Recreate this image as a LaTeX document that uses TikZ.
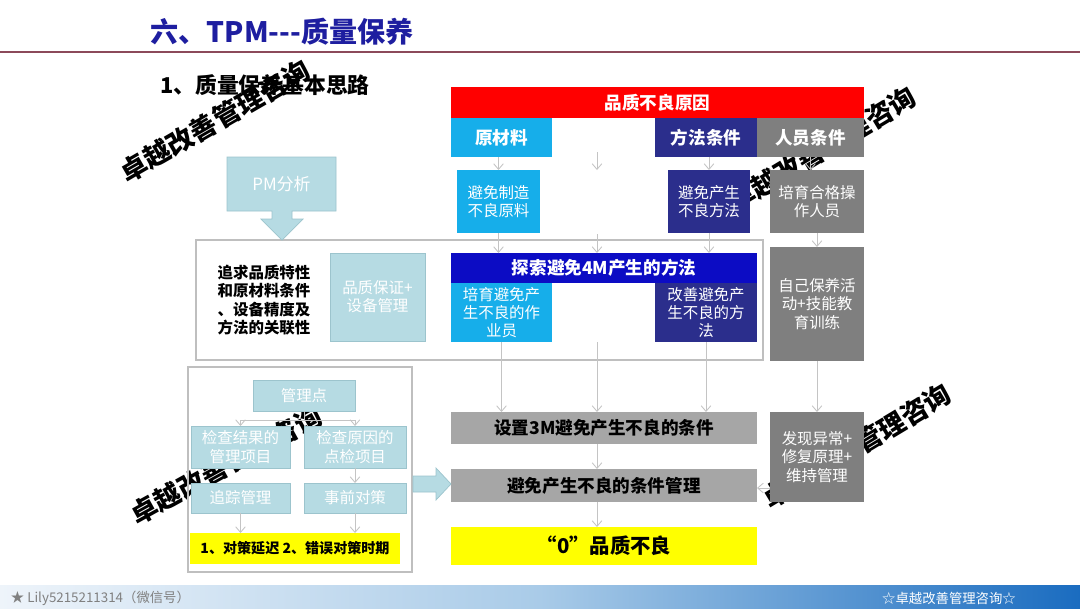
\documentclass[tikz,border=0pt]{standalone}
\usepackage{fontspec}
\setmainfont{Noto Sans CJK SC}
\usetikzlibrary{arrows.meta}
\definecolor{titleblue}{HTML}{1E1EA0}
\definecolor{ruleline}{HTML}{8C4A5A}
\definecolor{causered}{HTML}{FF0000}
\definecolor{matcyan}{HTML}{16AEEA}
\definecolor{methnavy}{HTML}{2B2E8C}
\definecolor{mangray}{HTML}{7F7F7F}
\definecolor{probeblue}{HTML}{0C0CC4}
\definecolor{bargray}{HTML}{A6A6A6}
\definecolor{paleblue}{HTML}{B6DBE3}
\definecolor{paleedge}{HTML}{9CC4CD}
\definecolor{framegray}{HTML}{BFBFBF}
\definecolor{flowgray}{HTML}{C4C4C4}
\definecolor{zeroyellow}{HTML}{FFFF00}
\definecolor{footleft}{HTML}{EEF4FA}
\definecolor{footmid}{HTML}{A9CBE8}
\definecolor{footright}{HTML}{1A6CC0}

\begin{document}
\begin{tikzpicture}[x=0.025cm,y=-0.025cm,every node/.style={font=\fontsize{11}{13}\selectfont},
  sz/.style 2 args={minimum width=#1*0.025cm,minimum height=#2*0.025cm},
  cell/.style={inner sep=0pt,outer sep=0pt,align=center,text=white,font=\fontsize{11}{13}\selectfont},
  head/.style={cell,font=\bfseries\fontsize{12.5}{14}\selectfont},
  bar/.style={cell,text=black,fill=bargray,font=\bfseries\fontsize{12.5}{14}\selectfont},
  pale/.style={cell,fill=paleblue,draw=paleedge,line width=.4pt},
  zone/.style={inner sep=0pt,outer sep=0pt,draw=framegray,line width=.8pt},
  flowline/.style={draw=flowgray,line width=.6pt},
  flow/.style={flowline,-{Straight Barb[length=1.4mm,width=2.4mm]}},
  wmark/.style={font=\bfseries\fontsize{19}{19}\selectfont,text=black}]
\useasboundingbox (0,0) rectangle (1080,608);
\fill[white] (0,0) rectangle (1080,608);
% heading
\node[font=\bfseries\fontsize{20}{23}\selectfont,text=titleblue] (title) at (282,32) {六、TPM-{}-{}-质量保养};
\draw[ruleline,line width=1.1pt] (0,52)--(1080,52);
\node[font=\bfseries\fontsize{15.5}{18}\selectfont] (sub) at (265,85) {1、质量保养基本思路};
% watermarks
\node[wmark,rotate=30] (wm1) at (215,121) {卓越改善管理咨询};
\node[wmark,rotate=31] (wm2) at (822,149) {卓越改善管理咨询};
\node[wmark,rotate=29] (wm3) at (226,465) {卓越改善管理咨询};
\node[wmark,rotate=31] (wm4) at (857,446) {卓越改善管理咨询};
% frames
\node[zone,sz={567}{120}] (upperzone) at (479.5,300) {};
\node[zone,sz={224}{205}] (lowerzone) at (300,469.5) {};
% causes
\node[head,fill=causered,sz={413}{31}] (cause) at (657.5,102.5) {品质不良原因};
\node[head,fill=matcyan,sz={101}{39}] (raw) at (501.5,137.5) {原材料};
\node[head,fill=methnavy,sz={102}{39}] (meth) at (706,137.5) {方法条件};
\node[head,fill=mangray,sz={107}{39}] (man) at (810.5,137.5) {人员条件};
\node[cell,fill=matcyan,sz={83}{63}] (rawfix) at (498.5,201.5) {避免制造\\不良原料};
\node[cell,fill=methnavy,sz={82}{63}] (methfix) at (709,201.5) {避免产生\\不良方法};
\node[cell,fill=mangray,sz={94}{63}] (manfix) at (817,201.5) {培育合格操\\作人员};
% PM analysis
\filldraw[fill=paleblue,draw=paleedge,line width=.5pt] (227,157)--(336,157)--(336,211)--(292,211)--(292,219)--(303,219)--(282,240)--(261,219)--(272,219)--(272,211)--(227,211)--cycle;
\node[cell,font=\fontsize{12}{14}\selectfont] (pm) at (281.5,184) {PM分析};
\node[cell,text=black,font=\bfseries\fontsize{11}{13}\selectfont] (link) at (264,300) {追求品质特性\\和原材料条件\\、设备精度及\\方法的关联性};
\node[pale,sz={95}{88}] (qa) at (377.5,297) {品质保证+\\设备管理};
\node[head,fill=probeblue,sz={306}{30}] (probe) at (604,268) {探索避免4M产生的方法};
\node[cell,fill=matcyan,sz={101}{59}] (opfix) at (501.5,312.5) {培育避免产\\生不良的作\\业员};
\node[cell,fill=methnavy,sz={102}{59}] (methimp) at (706,312.5) {改善避免产\\生不良的方\\法};
\node[cell,fill=mangray,sz={94}{114}] (selfpm) at (817,304) {自己保养活\\动+技能教\\育训练};
% conditions
\node[bar,sz={306}{32}] (set3m) at (604,428) {设置3M避免产生不良的条件};
\node[bar,sz={306}{33}] (ctrl) at (604,485.5) {避免产生不良的条件管理};
\node[bar,fill=zeroyellow,font=\bfseries\fontsize{14.5}{16}\selectfont,sz={306}{38}] (zero) at (604,546) {“0”品质不良};
\node[cell,fill=mangray,sz={94}{90}] (detect) at (817,457) {发现异常+\\修复原理+\\维持管理};
% control points
\node[pale,sz={102}{31}] (point) at (304,395.5) {管理点};
\node[pale,sz={99}{42}] (result) at (240.5,447) {检查结果的\\管理项目};
\node[pale,sz={102}{42}] (check) at (355,447) {检查原因的\\点检项目};
\node[pale,sz={99}{30}] (follow) at (240.5,498) {追踪管理};
\node[pale,sz={102}{30}] (prevent) at (355,498) {事前对策};
\node[cell,fill=zeroyellow,text=black,font=\bfseries\fontsize{10}{12}\selectfont,sz={210}{31}] (delay) at (295,548.5) {1、对策延迟 2、错误对策时期};
\filldraw[fill=paleblue,draw=paleedge,line width=.5pt] (413,476)--(436,476)--(436,468)--(451,484)--(436,500)--(436,492)--(413,492)--cycle;
% arrows
\coordinate (gapA) at (597,152);
\coordinate (gapB) at (597,234);
\coordinate (gapC) at (597,342);
\draw[flow] (rawfix.north |- raw.south)--(rawfix.north);
\draw[flow] (gapA)--(gapA |- rawfix.north);
\draw[flow] (methfix.north |- meth.south)--(methfix.north);
\draw[flow] (man.south)--(man.south |- manfix.north);
\draw[flow] (rawfix.south)--(rawfix.south |- probe.north);
\draw[flow] (gapB)--(gapB |- probe.north);
\draw[flow] (methfix.south)--(methfix.south |- probe.north);
\draw[flow] (manfix.south)--(selfpm.north);
\draw[flow] (opfix.south)--(opfix.south |- set3m.north);
\draw[flow] (gapC)--(gapC |- set3m.north);
\draw[flow] (methimp.south)--(methimp.south |- set3m.north);
\draw[flow] (selfpm.south)--(detect.north);
\draw[flow] (gapC |- set3m.south)--(gapC |- ctrl.north);
\draw[flow] (gapC |- ctrl.south)--(gapC |- zero.north);
\draw[flow] (detect.west |- 0,488)--(ctrl.east |- 0,488);
\coordinate (split) at (304,420);
\draw[flowline] (point.south)--(split);
\draw[flow] (split) -| (result.north);
\draw[flow] (split) -| (check.north);
\draw[flow] (check.south)--(prevent.north);
\draw[flow] (follow.south)--(follow.south |- delay.north);
\draw[flow] (prevent.south)--(prevent.south |- delay.north);
% footer
\shade[left color=footleft,right color=footright,middle color=footmid] (0,585) rectangle (1080,608);
\node[anchor=west,text=gray,font=\fontsize{9.5}{11}\selectfont] (wechat) at (6,598) {★ Lily5215211314（微信号）};
\node[text=white,font=\fontsize{9.5}{11}\selectfont] (brand) at (949,598) {☆卓越改善管理咨询☆};
\end{tikzpicture}
\end{document}
